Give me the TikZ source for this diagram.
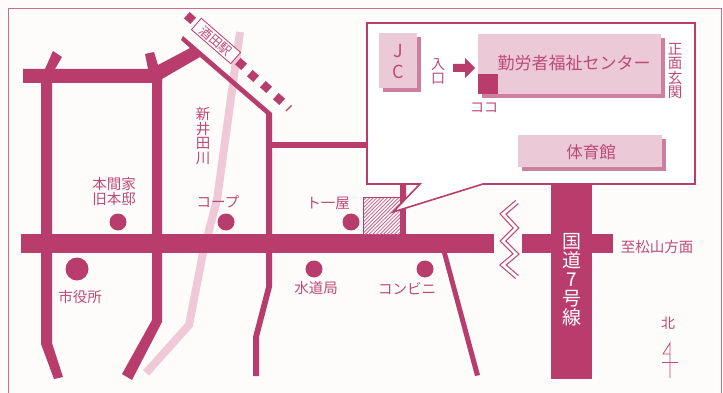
\documentclass[tikz,border=0pt]{standalone}
\usepackage{fontspec}
\setmainfont{Noto Sans CJK JP}
\definecolor{road}{HTML}{B93D6C}
\definecolor{txt}{HTML}{BC4A76}
\definecolor{boxpink}{HTML}{ECC9D6}
\definecolor{boxshadow}{HTML}{CD7F9F}
\definecolor{river}{HTML}{F0C9D8}
\definecolor{paper}{HTML}{FDFCFB}
\newcommand{\fs}[1]{\fontsize{#1}{#1}\selectfont}
\tikzset{
  x=1pt,y=-1pt,
  roadfill/.style={fill=road,draw=none},
  landmark/.style={circle,fill=road,draw=none,inner sep=0pt,minimum size=17pt},
  label14/.style={text=txt,font=\fs{14.5},inner sep=0pt,align=center},
  stack/.style={text=txt,font=\fs{14.5},inner sep=0pt,align=center},
  tie/.style={rectangle,fill=road,draw=none,minimum size=8.5pt,inner sep=0pt,rotate=-42},
  building/.style={fill=boxpink,draw=none},
  buildshadow/.style={fill=boxshadow,draw=none},
}
\begin{document}
\begin{tikzpicture}
\useasboundingbox (0,0) rectangle (723,393);
\fill[paper] (0,0) rectangle (723,393);
% outer frame
\draw[road!75,line width=0.9pt] (8.5,393) -- (8.5,8) -- (721.5,8) -- (721.5,393);
% river
\draw[river,line width=8pt,miter limit=10] (240,32) -- (217,200) -- (203,253) -- (189,325) -- (146,373);
% roads
\path[roadfill] (21,234) rectangle (494,253);
\path[roadfill] (522,234) rectangle (613,253);
\path[roadfill] (551,183) rectangle (592,379);
\path[roadfill] (23,69) -- (148,69) -- (145,54) -- (154,52) -- (158,65) -- (192,47) -- (200,57) -- (162,79) -- (162,83) -- (23,83) -- cycle;
\path[roadfill] (45,69) -- (53,51) -- (62,57) -- (55,69) -- cycle;
\path[roadfill] (41,83) -- (52,83) -- (52,343) -- (63,377) -- (54,379) -- (41,344) -- cycle;
\path[roadfill] (152,79) -- (162,79) -- (162,322) -- (132,380) -- (122,374) -- (152,320) -- cycle;
\path[roadfill] (183,36) -- (272,113) -- (272,234) -- (266,234) -- (266,114) -- (200,57) -- (181,40) -- cycle;
\path[roadfill] (266,253) -- (272,253) -- (272,287) -- (259,337) -- (259,376) -- (253,376) -- (253,337) -- (266,287) -- cycle;
\path[roadfill] (272,142) rectangle (368,148);
\path[roadfill] (442,253) -- (447,253) -- (480,375) -- (475,376) -- cycle;
\path[roadfill] (400,180) rectangle (406,234);
% railway
\node[tie] (t0) at (190,18) {};
\node[tie] (t1) at (241,64) {};
\node[tie] (t2) at (253,76) {};
\node[tie] (t3) at (266,87) {};
\node[tie] (t4) at (279,99) {};
\draw[road,line width=1.4pt] (286,111) -- (291.5,105.5);
% station sign
\node[draw=road,line width=0.8pt,fill=paper,rotate=-41,minimum width=52pt,minimum height=15pt,inner sep=0pt,text=txt,font=\fs{12.5}] (station) at (216,41) {酒田駅};
% hatched site
\begin{scope}
\clip (363,197) rectangle (400,234);
\fill[white] (363,197) rectangle (400,234);
\foreach \i in {-46,-42.4,...,42} {
  \draw[road!80,line width=0.8pt] (363+\i,236) -- (363+\i+42,194);
}
\end{scope}
\draw[road,line width=1pt] (400,197) -- (363,197) -- (363,234);
% callout
\draw[road,line width=1.6pt,fill=white,line join=miter] (367,23) -- (695,23) -- (695,184) -- (483,184) -- (393,212) -- (420,184) -- (367,184) -- cycle;
\path[roadfill] (400,184.8) -- (406,184.8) -- (406,198) -- (400,204.5) -- cycle;
% buildings
\path[buildshadow] (383,37) rectangle (421,92);
\path[building] (379,33) rectangle (417,88);
\path[buildshadow] (482,38) rectangle (665,98);
\path[building] (478,34) rectangle (661,94);
\path[roadfill] (478,74) rectangle (498,94);
\path[buildshadow] (522,139) rectangle (666,171);
\path[building] (518,135) rectangle (662,167);
% building labels
\node[text=txt,font=\fs{18},inner sep=0pt] (j) at (398,51) {J};
\node[text=txt,font=\fs{18},inner sep=0pt] (c) at (398,72) {C};
\node[stack,font=\fs{14}] (entry) at (438,71) {入\\口};
\path[roadfill] (453,64) -- (465,64) -- (465,58) -- (475,68) -- (465,78) -- (465,72) -- (453,72) -- cycle;
\node[text=txt,font=\fs{17},inner sep=0pt] (center) at (574,63) {勤労者福祉センター};
\node[text=txt,font=\fs{14},inner sep=0pt] (koko) at (484,108) {ココ};
\node[stack] (front) at (675,71) {正\\面\\玄\\関};
\node[text=txt,font=\fs{16.5},inner sep=0pt] (gym) at (591,152) {体育館};
% zigzag
\draw[txt,line width=5.2pt,line join=miter,miter limit=10] (517,202) -- (503,214) -- (516,228) -- (503,241) -- (516,254) -- (503,265) -- (517,277);
\draw[paper,line width=2.8pt,line join=miter,miter limit=10] (517.8,201.3) -- (503,214) -- (516,228) -- (503,241) -- (516,254) -- (503,265) -- (517.8,277.7);
% landmarks
\node[landmark] (honma) at (118,222) {};
\node[landmark] (coop) at (226,222) {};
\node[landmark] (toya) at (351,222) {};
\node[landmark,minimum size=23pt] (city) at (77,269) {};
\node[landmark] (water) at (314,269) {};
\node[landmark] (conv) at (425,269) {};
\node[label14] (honmat) at (114,191.5) {本間家\\旧本邸};
\node[label14] (coopt) at (218,202) {コープ};
\node[label14] (toyat) at (328,203) {ト一屋};
\node[label14] (cityt) at (80,297) {市役所};
\node[label14] (watert) at (316,288) {水道局};
\node[label14] (convt) at (407,289) {コンビニ};
\node[stack] (riv) at (203,136) {新\\井\\田\\川};
\node[text=white,font=\fs{19},inner sep=0pt,align=center] (r7) at (572,280) {国\\道\\7\\号\\線};
\node[label14] (dir) at (657,247) {至松山方面};
% north
\node[label14,font=\fs{14}] (north) at (668,323) {北};
\draw[txt,line width=0.8pt] (670,378) -- (670,343) -- (663,354) -- (670,354);
\draw[txt,line width=0.8pt] (662,362) -- (678,362);
\end{tikzpicture}
\end{document}
